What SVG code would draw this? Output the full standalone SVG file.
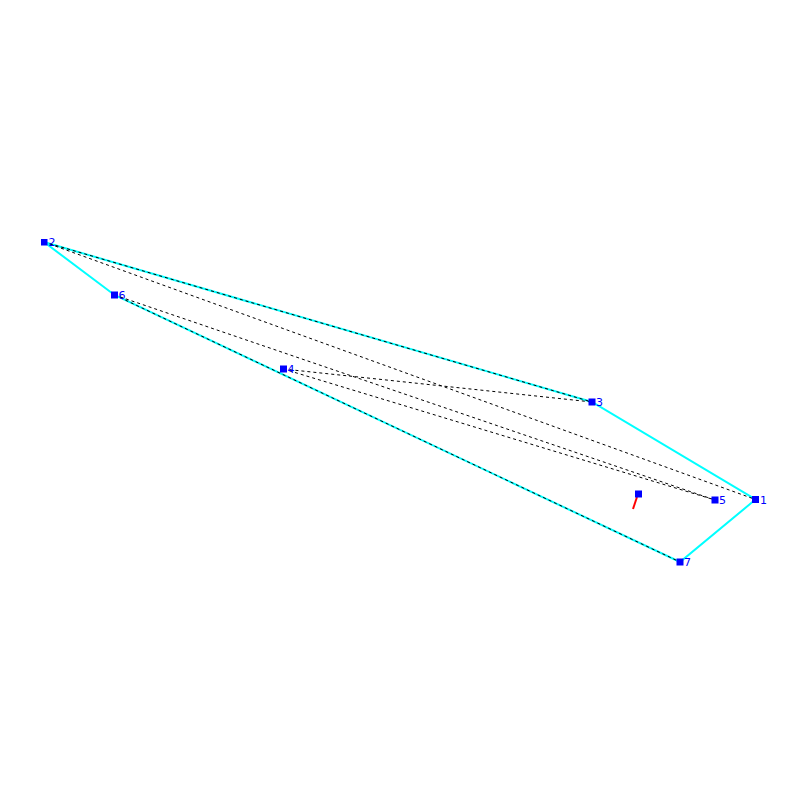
<svg xmlns="http://www.w3.org/2000/svg" width="800" height="800" viewBox="0 0 800 800">
<style>
.hull{stroke:#00ffff;stroke-width:2;fill:none}
.d{stroke:#000;stroke-width:1;stroke-dasharray:3,3;fill:none}
.pt{fill:#0000ff}
.lbl{fill:#0000ff;font-family:"DejaVu Sans",sans-serif;font-size:11px}
</style>
<rect width="800" height="800" fill="#fff"/>
<g id="connectors">
<polygon class="hull" points="44,242 592,402 755.5,499.5 680,562 114.5,295"/>
<line class="d" x1="44" y1="242" x2="592" y2="402"/>
<line class="d" x1="44" y1="242" x2="755.5" y2="499.5"/>
<line class="d" x1="114.5" y1="295" x2="715" y2="500"/>
<line class="d" x1="114.5" y1="295" x2="680" y2="562"/>
<line class="d" x1="283.5" y1="369" x2="592" y2="402"/>
<line class="d" x1="283.5" y1="369" x2="715" y2="500"/>
<line x1="637" y1="497" x2="633" y2="509" stroke="#ff0000" stroke-width="2"/>
</g>
<g id="n1"><rect class="pt" x="752" y="496" width="7" height="7"/><text class="lbl" x="760" y="503.5">1</text></g>
<g id="n2"><rect class="pt" x="41" y="239" width="6.5" height="6.5"/><text class="lbl" x="48.5" y="246">2</text></g>
<g id="n3"><rect class="pt" x="588.5" y="398.5" width="7" height="7"/><text class="lbl" x="596" y="406">3</text></g>
<g id="n4"><rect class="pt" x="280" y="365.5" width="7" height="7"/><text class="lbl" x="287.5" y="373">4</text></g>
<g id="n5"><rect class="pt" x="711.5" y="496.5" width="7" height="7"/><text class="lbl" x="719" y="504">5</text></g>
<g id="n6"><rect class="pt" x="111" y="291.5" width="7" height="7"/><text class="lbl" x="118.5" y="299">6</text></g>
<g id="n7"><rect class="pt" x="676.5" y="558.5" width="7" height="7"/><text class="lbl" x="684" y="566">7</text></g>
<g id="n8"><rect class="pt" x="635" y="490.5" width="7" height="7"/></g>
</svg>
